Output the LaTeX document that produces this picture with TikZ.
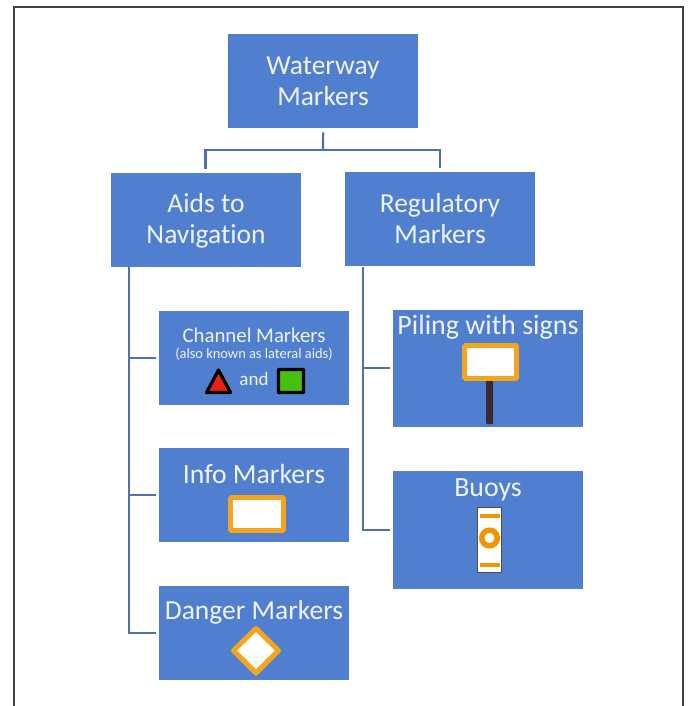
\documentclass[tikz,border=0pt]{standalone}
\usepackage{fontspec}
\setmainfont[Ligatures=NoCommon]{Carlito}
\usetikzlibrary{calc}
\definecolor{boxblue}{HTML}{4F7FCE}
\definecolor{linkblue}{HTML}{4F70A8}
\definecolor{markorange}{HTML}{F5A41E}
\definecolor{buoyorange}{HTML}{F29505}
\definecolor{postbrown}{HTML}{3A2A30}
\definecolor{labelwhite}{HTML}{F0F3FA}
\definecolor{markred}{HTML}{E8200F}
\definecolor{markgreen}{HTML}{48C00F}
\tikzset{
  x=1pt,y=-1pt,
  tbox/.style={draw=none,fill=boxblue,inner sep=0pt,anchor=north west},
  link/.style={draw=linkblue,line width=2.2pt},
  lbl/.style={text=labelwhite,inner sep=0pt,align=center},
  signm/.style={draw=markorange,fill=white,line width=4.6pt,rounded corners=1pt},
}
\begin{document}
\begin{tikzpicture}
\useasboundingbox (0,0) rectangle (691,706);
\fill[white] (0,0) rectangle (691,706);
\draw[line width=1.8pt,draw=black!75] (14,706) -- (14,7) -- (683,7) -- (683,706);
% boxes
\node[tbox,minimum width=190,minimum height=94] (root) at (228,34) {};
\node[tbox,minimum width=190,minimum height=94] (aids) at (111,173) {};
\node[tbox,minimum width=190,minimum height=94] (reg) at (345,172) {};
\node[tbox,minimum width=190,minimum height=94] (chan) at (159,311) {};
\node[tbox,minimum width=190,minimum height=94] (info) at (159,448) {};
\node[tbox,minimum width=190,minimum height=94] (dang) at (159,586) {};
\node[tbox,minimum width=190,minimum height=117] (pile) at (393,310) {};
\node[tbox,minimum width=190,minimum height=118] (buoy) at (393,471) {};
% labels
\node[lbl,font=\fontsize{27.5}{31}\selectfont] (t1) at (323,81) {Waterway\\Markers};
\node[lbl,font=\fontsize{27.5}{31}\selectfont] (t2) at (206,221) {Aids to\\Navigation};
\node[lbl,font=\fontsize{27.5}{31}\selectfont] (t3) at (440,219) {Regulatory\\Markers};
\node[lbl,font=\fontsize{20.8}{22}\selectfont] (t4) at (254,335) {Channel Markers};
\node[lbl,font=\fontsize{14.4}{16}\selectfont] (t5) at (254,354) {(also known as lateral aids)};
\node[lbl,font=\fontsize{19}{20}\selectfont] (t6) at (254,379) {and};
\node[lbl,font=\fontsize{27.7}{30}\selectfont] (t7) at (254,474) {Info Markers};
\node[lbl,font=\fontsize{27.5}{30}\selectfont] (t8) at (254,612) {Danger Markers};
\node[lbl,font=\fontsize{28}{30}\selectfont] (t9) at (488,327) {Piling with signs};
\node[lbl,font=\fontsize{27.8}{30}\selectfont] (t10) at (488,490) {Buoys};
% connectors
\coordinate (j0) at (323,150);
\coordinate (ja) at (205.5,150);
\coordinate (jb) at (440,150);
\draw[link,shorten <=4pt] (root.south) -- (j0);
\draw[link,line join=miter,shorten <=4pt,shorten >=4pt] (aids.north -| ja) -- (ja) -- (jb) -- (reg.north -| jb);
\coordinate (tl) at (129,267);
\draw[link,shorten >=3pt] (tl) -- (129,633) -- (dang.west |- 0,633);
\coordinate (cl) at (129,358);
\coordinate (il) at (129,495);
\draw[link,shorten >=3pt] (cl) -- (chan.west |- cl);
\draw[link,shorten >=3pt] (il) -- (info.west |- il);
\coordinate (tr) at (363,267);
\coordinate (pr) at (363,368);
\draw[link,shorten >=3pt] (tr) -- (363,530) -- (buoy.west |- 0,530);
\draw[link,shorten >=3pt] (pr) -- (pile.west |- pr);
% channel marks
\draw[fill=markred,draw=black,line width=3.2pt,line join=round] (206.5,392.5) -- (230.5,392.5) -- (218.5,370) -- cycle;
\draw[fill=markgreen,draw=black,line width=3.2pt,rounded corners=0.5pt] (278.5,369.5) rectangle (303.5,392.5);
% info sign
\draw[signm] (230.5,497.5) rectangle (283.5,530.5);
% pile
\fill[postbrown,rounded corners=1pt] (486,379) rectangle (493,424);
\draw[signm] (464.5,345.5) rectangle (516.5,378.5);
% buoy
\draw[fill=white,draw=black!70,line width=0.5pt] (477.5,507.5) rectangle (501,572.5);
\draw[buoyorange,line width=3.8pt] (480,516) -- (500,516);
\draw[buoyorange,line width=3.8pt] (480,565) -- (500,565);
\draw[buoyorange,line width=5.5pt,fill=white] (489.5,538) circle (7.8);
% diamond
\draw[markorange,fill=white,line width=5pt,line join=round] (256,628.5) -- (278.5,650.5) -- (256,673) -- (233.5,650.5) -- cycle;
\end{tikzpicture}
\end{document}
